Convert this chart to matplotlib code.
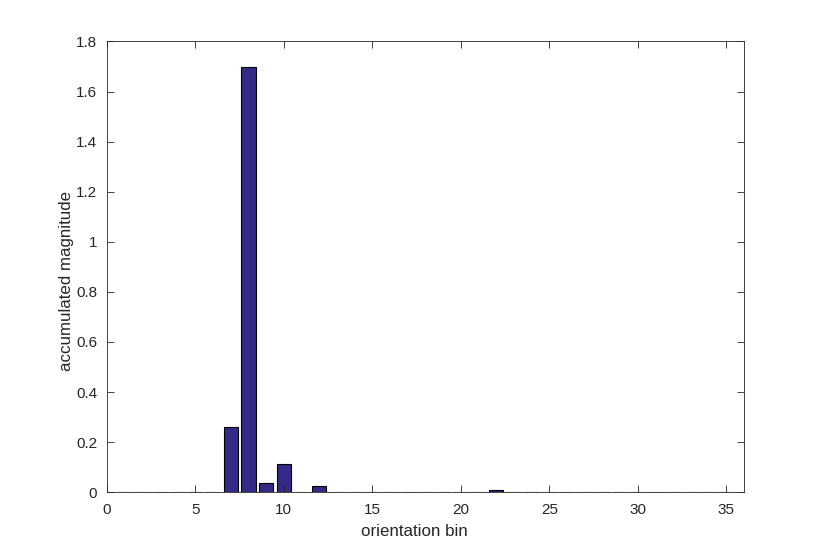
import numpy as np
import matplotlib
matplotlib.use("Agg")
import matplotlib.pyplot as plt

# orientation histogram, bins 1..35
bins = np.arange(1, 36)
mags = np.zeros(35)
mags[7 - 1] = 0.262
mags[8 - 1] = 1.70
mags[9 - 1] = 0.036
mags[10 - 1] = 0.111
mags[12 - 1] = 0.026
mags[22 - 1] = 0.010

plt.rcParams["font.family"] = ["Liberation Sans", "DejaVu Sans"]

fig = plt.figure(figsize=(8.22, 5.53), dpi=100)
ax = fig.add_axes([0.13, 0.11, 0.775, 0.815])

ax.bar(bins, mags, width=0.8, color="#352a87", edgecolor="black", linewidth=0.8)

ax.set_xlim(0, 36)
ax.set_ylim(0, 1.8)
ax.set_xticks(range(0, 36, 5))
ax.set_yticks(np.arange(0, 1.81, 0.2))
ax.set_yticklabels(["0", "0.2", "0.4", "0.6", "0.8", "1", "1.2", "1.4", "1.6", "1.8"])
ax.tick_params(direction="in", top=True, right=True, length=4.8, width=0.6,
               colors="#262626", labelsize=11, labelcolor="#262626")
ax.tick_params(axis="y", pad=7)
ax.tick_params(axis="x", pad=8)
for s in ax.spines.values():
    s.set_linewidth(0.6)
    s.set_color("#262626")

# labels sit a bit off-centre in the reference, place them by hand
ax.text(0.4828, -0.0976, "orientation bin", transform=ax.transAxes,
        ha="center", va="baseline", fontsize=12.2, color="#262626")
ax.text(-0.064, 0.468, "accumulated magnitude", transform=ax.transAxes,
        ha="center", va="center", rotation=90, fontsize=12.2, color="#262626")

fig.savefig("out.png", dpi=100)
